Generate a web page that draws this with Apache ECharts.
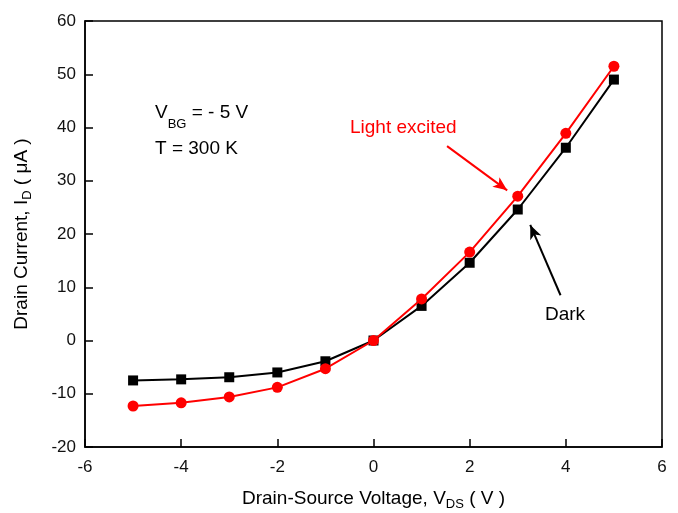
<!DOCTYPE html>
<html>
<head>
<meta charset="utf-8">
<script src="https://cdn.jsdelivr.net/npm/echarts@6/dist/echarts.min.js"></script>
<style>
  html, body { margin: 0; padding: 0; background: #fff; }
  #chart { width: 678px; height: 513px; }
</style>
</head>
<body>
<div id="chart"></div>
<script>
// drain-source voltage (V)
const vds = [-5, -4, -3, -2, -1, 0, 1, 2, 3, 4, 5]
// drain current (uA)
const darkI = [-7.5, -7.3, -6.9, -6.0, -3.9, 0, 6.5, 14.6, 24.6, 36.2, 49.0]
const lightI = [-12.3, -11.7, -10.6, -8.8, -5.3, 0, 7.8, 16.6, 27.1, 38.9, 51.5]
// annotation arrows [from, to] in data coords
const lightArrow = [[1.53, 36.5], [2.78, 28.2]]
const darkArrow = [[3.89, 8.5], [3.26, 21.7]]

const chart = echarts.init(document.getElementById('chart'))
const font = 'Arial, "Liberation Sans", sans-serif'

const pairs = (ys) => vds.map((x, i) => [x, ys[i]])

const arrowLine = (pts, color) => ({
  silent: true,
  symbol: ['none', 'arrow'],
  symbolSize: [9, 14],
  label: { show: false },
  lineStyle: { color: color, width: 2, type: 'solid' },
  data: [[{ coord: pts[0] }, { coord: pts[1] }]]
})

const titleRich = {
  n: { fontFamily: font, fontSize: 19, color: '#000' },
  s: { fontFamily: font, fontSize: 13, color: '#000', verticalAlign: 'bottom', padding: [12, 0, 0, 0] }
}

const option = {
  animation: false,
  grid: {
    left: 85, right: 16, top: 21, bottom: 66,
    outerBoundsMode: 'none', containLabel: false,
    show: true, borderColor: '#000', borderWidth: 1.5
  },
  xAxis: {
    type: 'value', min: -6, max: 6, interval: 2,
    name: '{n|Drain-Source Voltage, V}{s|DS}{n| ( V )}',
    nameLocation: 'middle', nameGap: 39,
    nameTextStyle: { rich: titleRich },
    axisLine: { onZero: false, lineStyle: { color: '#000', width: 1.5 } },
    axisTick: { inside: true, length: 8, lineStyle: { color: '#000', width: 1.5 } },
    axisLabel: { fontFamily: font, fontSize: 17, color: '#111', margin: 12 },
    splitLine: { show: false }
  },
  yAxis: {
    type: 'value', min: -20, max: 60, interval: 10,
    name: '{n|Drain Current, I}{s|D}{n| ( μA )}',
    nameLocation: 'middle', nameGap: 51,
    nameTextStyle: { rich: titleRich },
    axisLine: { onZero: false, lineStyle: { color: '#000', width: 1.5 } },
    axisTick: { inside: true, length: 8, lineStyle: { color: '#000', width: 1.5 } },
    axisLabel: { fontFamily: font, fontSize: 17, color: '#111', margin: 9 },
    splitLine: { show: false }
  },
  series: [
    {
      name: 'Dark',
      type: 'line',
      data: pairs(darkI),
      symbol: 'rect',
      symbolSize: 10,
      itemStyle: { color: '#000' },
      lineStyle: { color: '#000', width: 2 },
      markLine: arrowLine(darkArrow, '#000'),
      z: 2
    },
    {
      name: 'Light excited',
      type: 'line',
      data: pairs(lightI),
      symbol: 'circle',
      symbolSize: 11,
      itemStyle: { color: '#ff0000' },
      lineStyle: { color: '#ff0000', width: 2 },
      markLine: arrowLine(lightArrow, '#ff0000'),
      z: 3
    }
  ],
  graphic: [
    {
      type: 'text', left: 155, top: 103,
      style: {
        text: '{n|V}{s|BG}{n| = - 5 V}\n{n|T = 300 K}',
        rich: {
          n: { fontFamily: font, fontSize: 19, fill: '#000', lineHeight: 36 },
          s: { fontFamily: font, fontSize: 13, fill: '#000', verticalAlign: 'bottom', padding: [12, 0, 0, 0], lineHeight: 36 }
        }
      }
    },
    {
      type: 'text', left: 350, top: 118,
      style: { text: 'Light excited', fontFamily: font, fontSize: 19, fill: '#ff0000' }
    },
    {
      type: 'text', left: 545, top: 305,
      style: { text: 'Dark', fontFamily: font, fontSize: 19, fill: '#000' }
    }
  ]
}

chart.setOption(option)
</script>
</body>
</html>
